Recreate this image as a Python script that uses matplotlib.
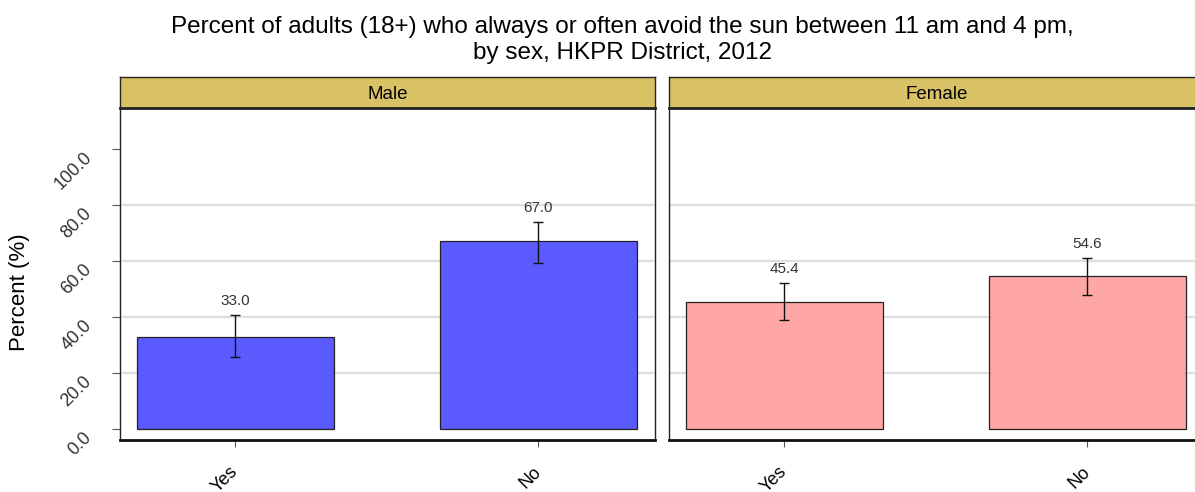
import matplotlib
matplotlib.use("Agg")
import matplotlib.pyplot as plt
import numpy as np

plt.rcParams['font.family'] = ['Liberation Sans', 'DejaVu Sans']

title_lines = ["Percent of adults (18+) who always or often avoid the sun between 11 am and 4 pm,",
               "by sex, HKPR District, 2012"]
panels = ["Male", "Female"]
categories = ["Yes", "No"]
male_values = [33.0, 67.0]
male_lower = [25.6, 59.1]
male_upper = [40.8, 73.9]
female_values = [45.4, 54.6]
female_lower = [39.0, 47.7]
female_upper = [52.1, 61.0]
yticks = [0, 20, 40, 60, 80, 100]
grid_vals = [20, 40, 60, 80]

colors = {"Male": "#5a5aff", "Female": "#ffa6a6"}
data = {"Male": (male_values, male_lower, male_upper),
        "Female": (female_values, female_lower, female_upper)}

W, H = 1195, 492
fig = plt.figure(figsize=(W / 100, H / 100), dpi=100)

def fx(px):
    return px / W

def fy(py):
    return 1 - py / H

ax_top, ax_bot = 108, 440
strip_top = 77
lefts = [120, 669]
width = 535

for i, p in enumerate(panels):
    ax = fig.add_axes([fx(lefts[i]), fy(ax_bot), fx(width), (ax_bot - ax_top) / H])
    vals, lo, hi = data[p]
    x = np.arange(len(categories))
    vals = np.array(vals)
    yerr = np.vstack([vals - np.array(lo), np.array(hi) - vals])
    for g in grid_vals:
        ax.axhline(g, color="#dedede", lw=1.6, zorder=0)
    ax.bar(x, vals, width=0.65, color=colors[p], edgecolor="#222222", linewidth=0.9, zorder=2)
    ax.errorbar(x, vals, yerr=yerr, fmt="none", ecolor="#111111", elinewidth=1.0,
                capsize=3.5, capthick=1.0, zorder=3)
    for xi, v, h in zip(x, vals, hi):
        ax.text(xi, h + 2.5, f"{v:.1f}", ha="center", va="bottom", fontsize=11, color="#333333")
    ax.set_xlim(-0.38, 1.385)
    ax.set_ylim(-3.9, 114.6)
    ax.set_xticks(x)
    ax.set_xticklabels(categories, fontsize=13)
    for lab in ax.get_xticklabels():
        lab.set_rotation(45)
        lab.set_rotation_mode("anchor")
        lab.set_ha("right")
        lab.set_va("center")
    ax.tick_params(axis="x", length=5, color="#555555", pad=16)
    for s in ["left", "right", "top"]:
        ax.spines[s].set_linewidth(1.0)
        ax.spines[s].set_color("#222222")
    ax.spines["bottom"].set_linewidth(2.0)
    ax.spines["bottom"].set_color("#111111")
    if i == 0:
        ax.set_yticks(yticks)
        ax.set_yticklabels([f"{t:.1f}" for t in yticks], rotation=45, fontsize=13, color="#333333",
                           va="top", ha="right")
        ax.tick_params(axis="y", length=5.8, color="#555555", pad=12)
        for lab in ax.get_yticklabels():
            lab.set_y(lab.get_position()[1])
    else:
        ax.set_yticks([])
    # strip
    sax = fig.add_axes([fx(lefts[i]), fy(ax_top), fx(width), (ax_top - strip_top) / H])
    sax.set_facecolor("#d9c265")
    sax.set_xticks([])
    sax.set_yticks([])
    for s in sax.spines.values():
        s.set_color("#222222")
        s.set_linewidth(1.0)
    sax.spines["bottom"].set_linewidth(2.0)
    sax.text(0.5, 0.45, p, ha="center", va="center", fontsize=13.5, transform=sax.transAxes)

fig.text(fx(20), fy(292), "Percent (%)", rotation=90, ha="center", va="center", fontsize=16)
fig.text(fx(622), fy(33), title_lines[0], ha="center", va="baseline", fontsize=17.5)
fig.text(fx(622), fy(59), title_lines[1], ha="center", va="baseline", fontsize=17.5)

fig.savefig("out.png", dpi=100)
